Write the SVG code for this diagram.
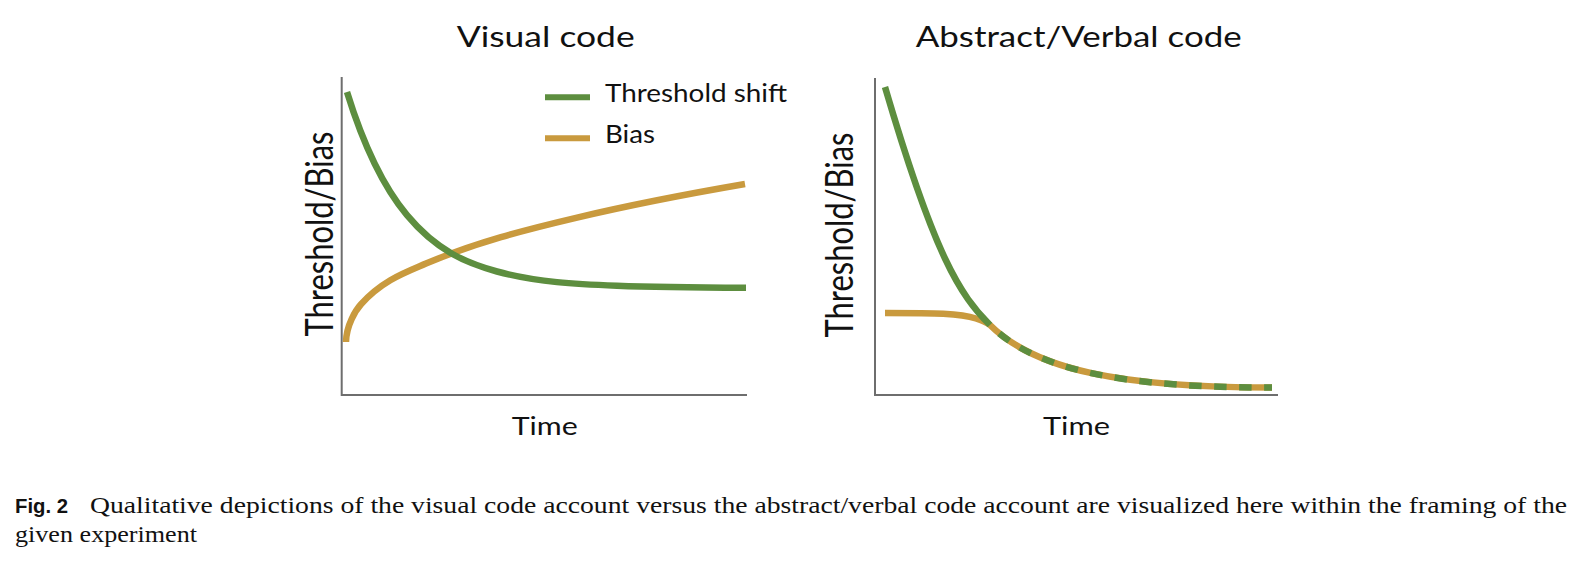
<svg xmlns="http://www.w3.org/2000/svg" width="1583" height="570" viewBox="0 0 1583 570">
<style>
.lbl{font-family:Lato,"Open Sans","Liberation Sans",sans-serif;fill:#111}
.axis{fill:none;stroke:#6e6e6e;stroke-width:2}
.g{fill:none;stroke:#5d8e3f;stroke-width:6.5;stroke-linejoin:round}
.o{fill:none;stroke:#c99a3e;stroke-width:6.5;stroke-linejoin:round}
.cap{font-family:"Liberation Serif","Times New Roman",serif;font-size:22.5px;fill:#111}
.capb{font-family:"Liberation Sans",Arial,sans-serif;font-weight:bold;font-size:20.5px;fill:#111}
</style>
<rect width="1583" height="570" fill="#fff"/>
<g id="panel-visual">
  <text class="lbl" x="456.7" y="46.5" font-size="28" textLength="178" lengthAdjust="spacingAndGlyphs">Visual code</text>
  <path class="axis" d="M341.7,77 V395 H747"/>
  <text class="lbl" transform="translate(333,234) scale(1.3,1) rotate(-90)" text-anchor="middle" font-size="29.5" textLength="205" lengthAdjust="spacingAndGlyphs">Threshold/Bias</text>
  <text class="lbl" x="511.7" y="435" font-size="25.5" textLength="66" lengthAdjust="spacingAndGlyphs">Time</text>
  <path class="o" d="M346,342 C346.3,325 356,309.7 361,304.2 C382.7,280.4 404.3,272.9 426,263.6 C476,242.2 526,229.6 576,217.8 C632.3,204.5 688.7,193.7 745,184"/>
  <path class="g" d="M347,92 C367,156.7 387,191.2 407,215.2 C437,251.2 467,263.3 497,271.5 C537,282.4 577,284.2 617,285.7 C660,287.3 703,287.5 746,287.7"/>
  <g id="legend">
    <line x1="545" y1="97.3" x2="590" y2="97.3" stroke="#5d8e3f" stroke-width="6"/>
    <text class="lbl" x="605" y="101.7" font-size="24.5" textLength="182" lengthAdjust="spacingAndGlyphs">Threshold shift</text>
    <line x1="545" y1="138.3" x2="590" y2="138.3" stroke="#c99a3e" stroke-width="6"/>
    <text class="lbl" x="605" y="143.3" font-size="24.5" textLength="50" lengthAdjust="spacingAndGlyphs">Bias</text>
  </g>
</g>
<g id="panel-verbal">
  <text class="lbl" x="915.7" y="46.5" font-size="28" textLength="326" lengthAdjust="spacingAndGlyphs">Abstract/Verbal code</text>
  <path class="axis" d="M875,78 V395 H1278"/>
  <text class="lbl" transform="translate(852.7,235) scale(1.3,1) rotate(-90)" text-anchor="middle" font-size="29.5" textLength="205" lengthAdjust="spacingAndGlyphs">Threshold/Bias</text>
  <text class="lbl" x="1043" y="435" font-size="25.5" textLength="67" lengthAdjust="spacingAndGlyphs">Time</text>
  <path class="o" d="M885,313 C935,313 960,313 976,318.5 C983,320.8 986,322 990,325 C1035,370 1122,387.6 1272,387.6"/>
  <path class="g" d="M885,87 C935,257 960,295 990,325"/>
  <path class="g" d="M990,325 C1035,370 1122,387.6 1272,387.6" stroke-dasharray="12.5 12.5" stroke-dashoffset="12.5"/>
</g>
<g id="caption">
  <text class="capb" x="15" y="513" textLength="53" lengthAdjust="spacingAndGlyphs">Fig. 2</text>
  <text class="cap" x="90" y="513" textLength="1477" lengthAdjust="spacingAndGlyphs">Qualitative depictions of the visual code account versus the abstract/verbal code account are visualized here within the framing of the</text>
  <text class="cap" x="15" y="541.7" textLength="182" lengthAdjust="spacingAndGlyphs">given experiment</text>
</g>
</svg>
